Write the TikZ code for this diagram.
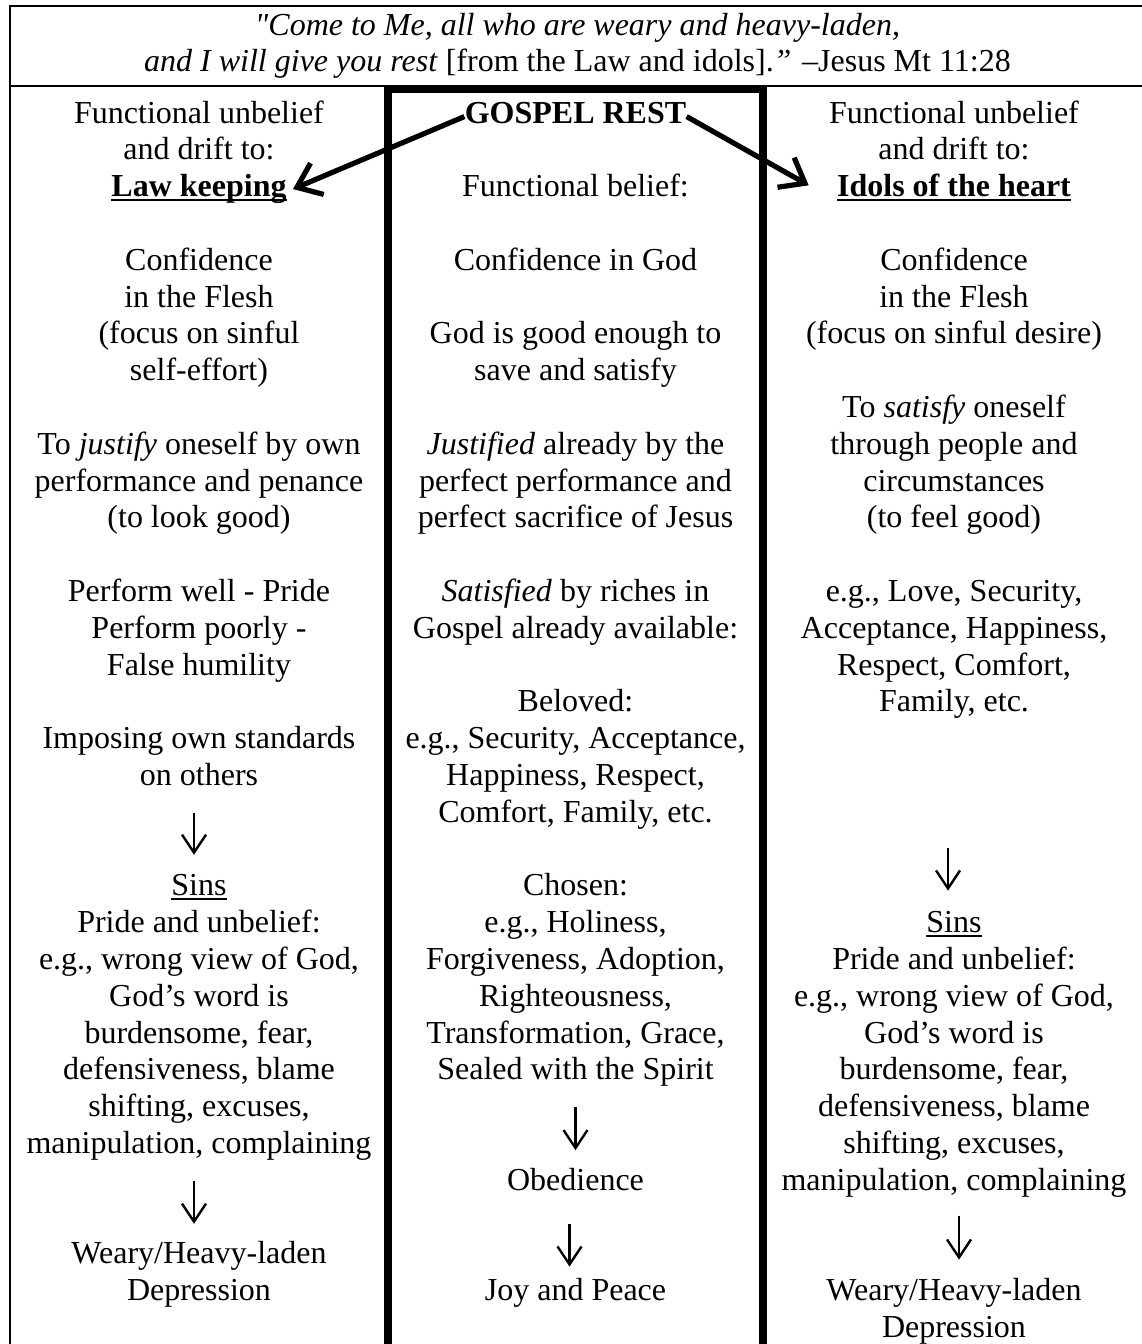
\documentclass[tikz,border=0pt]{standalone}
\usepackage{fontspec}
\setmainfont{Liberation Serif}[Ligatures=TeXOff]
\usetikzlibrary{arrows.meta}

% underline at a fixed depth, like a word processor does it
\newcommand{\undl}[1]{\setbox0\hbox{#1}\rlap{\rule[-2pt]{\wd0}{0.8pt}}\box0}

\tikzset{
  every node/.style={inner sep=0pt},
  word/.style={font=\fontsize{16}{18.4}\selectfont, anchor=base},
  txt/.style={word, text width=185pt, align=flush center, execute at end node=\strut},
  thinrule/.style={line width=0.9pt},
  thickrule/.style={line width=4pt},
  flow/.style={line width=1.2pt, -{Straight Barb[length=9pt,width=12pt]}},
  drift/.style={line width=2.6pt, -{Straight Barb[length=11pt,width=17pt]}}
}

\begin{document}
\begin{tikzpicture}[x=0.5pt, y=-0.5pt]
    \useasboundingbox (0,0) rectangle (1141,1344);

    % table
    \draw [thinrule] (10,1400) -- (10,6) -- (1150,6);
    \draw [thinrule] (10,86) -- (1150,86);
    \draw [thickrule] (388,1400) -- (388,89) -- (763,89) -- (763,1400);

    \node [txt, text width=560pt] (quote) at (577.5,35) {\textit{"Come to Me, all who are weary and heavy-laden,}\\
        \textit{and I will give you rest} [from the Law and idols].\textit{”} –Jesus Mt 11:28};

    % left column
    \node [txt] (funL) at (199,123) {Functional unbelief\\and drift to:};
    \node [word] (law) at (199,196.6) {\textbf{\undl{Law keeping}}};
    \node [txt] (confL) at (199,270.2) {Confidence\\in the Flesh\\(focus on sinful\\self-effort)};
    \node [txt] (justL) at (199,454.2) {To \textit{justify} oneself by own\\performance and penance\\(to look good)};
    \node [txt] (perfL) at (199,601.4) {Perform well - Pride\\Perform poorly -\\False humility};
    \node [txt] (impL) at (199,748.6) {Imposing own standards\\on others};
    \node [txt] (sinL) at (199,895.8) {\undl{Sins}\\Pride and unbelief:\\e.g., wrong view of God,\\God’s word is\\burdensome, fear,\\defensiveness, blame\\shifting, excuses,\\manipulation, complaining};
    \node [txt] (wearyL) at (199,1263.8) {Weary/Heavy-laden\\Depression};

    % middle column
    \node [word] (gospel) at (575.5,123) {\textbf{GOSPEL REST}};
    \node [txt] (belief) at (575.5,196.6) {Functional belief:};
    \node [txt] (confC) at (575.5,270.2) {Confidence in God};
    \node [txt] (goodC) at (575.5,343.8) {God is good enough to\\save and satisfy};
    \node [txt] (justC) at (575.5,454.2) {\textit{Justified} already by the\\perfect performance and\\perfect sacrifice of Jesus};
    \node [txt] (satC) at (575.5,601.4) {\textit{Satisfied} by riches in\\Gospel already available:};
    \node [txt] (belC) at (575.5,711.8) {Beloved:\\e.g., Security, Acceptance,\\Happiness, Respect,\\Comfort, Family, etc.};
    \node [txt] (choC) at (575.5,895.8) {Chosen:\\e.g., Holiness,\\Forgiveness, Adoption,\\Righteousness,\\Transformation, Grace,\\Sealed with the Spirit};
    \node [txt] (obey) at (575.5,1190.2) {Obedience};
    \node [txt] (joy) at (575.5,1300.6) {Joy and Peace};

    % right column
    \node [txt] (funR) at (954,123) {Functional unbelief\\and drift to:};
    \node [word] (idols) at (954,196.6) {\textbf{\undl{Idols of the heart}}};
    \node [txt] (confR) at (954,270.2) {Confidence\\in the Flesh\\(focus on sinful desire)};
    \node [txt] (satR) at (954,417.4) {To \textit{satisfy} oneself\\through people and\\circumstances\\(to feel good)};
    \node [txt] (egR) at (954,601.4) {e.g., Love, Security,\\Acceptance, Happiness,\\Respect, Comfort,\\Family, etc.};
    \node [txt] (sinR) at (954,932.6) {\undl{Sins}\\Pride and unbelief:\\e.g., wrong view of God,\\God’s word is\\burdensome, fear,\\defensiveness, blame\\shifting, excuses,\\manipulation, complaining};
    \node [txt] (wearyR) at (954,1300.6) {Weary/Heavy-laden\\Depression};

    % drift arrows
    \draw [drift] ([yshift=-2pt]gospel.west) -- ([xshift=3pt]law.east);
    \draw [drift] ([yshift=-2pt]gospel.east) -- ([xshift=-14pt,yshift=1pt]idols.west);

    % down arrows
    \draw [flow] ([xshift=-2.5pt,yshift=-8pt]impL.south) -- ([xshift=-2.5pt,yshift=20.5pt]sinL.base);
    \draw [flow] ([xshift=-2.5pt,yshift=-8.3pt]sinL.south) -- ([xshift=-2.5pt,yshift=20pt]wearyL.base);
    \draw [flow] ([yshift=-8pt]choC.south) -- ([yshift=20pt]obey.base);
    \draw [flow] ([xshift=-3pt,yshift=-11pt]obey.south) -- ([xshift=-3pt,yshift=17pt]joy.base);
    \draw [flow] ([xshift=-3pt,yshift=-62.5pt]egR.south) -- ([xshift=-3pt,yshift=21pt]sinR.base);
    \draw [flow] ([xshift=2.5pt,yshift=-7pt]sinR.south) -- ([xshift=2.5pt,yshift=20.5pt]wearyR.base);
\end{tikzpicture}
\end{document}
